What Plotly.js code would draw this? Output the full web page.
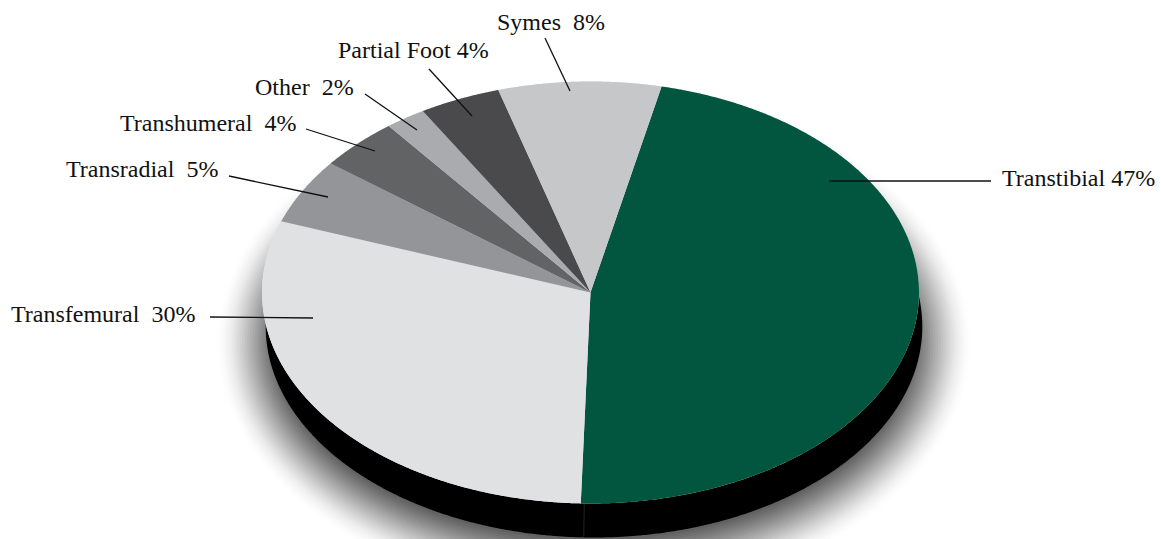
<!DOCTYPE html>
<html>
<head>
<meta charset="utf-8">
<script src="https://cdn.plot.ly/plotly-3.0.1.min.js"></script>
<style>html,body{margin:0;padding:0;background:#fff;overflow:hidden}#chart{width:1161px;height:539px}</style>
</head>
<body>
<div id="chart"></div>
<script>
// Data, clockwise from the first slice
const categories = ["Transtibial", "Transfemural", "Transradial", "Transhumeral", "Other", "Partial Foot", "Symes"];
const values = [47, 30, 5, 4, 2, 4, 8];
const labelTexts = ["Transtibial 47%", "Transfemural\u00A0\u00A030%", "Transradial\u00A0\u00A05%", "Transhumeral\u00A0\u00A04%", "Other\u00A0\u00A02%", "Partial Foot 4%", "Symes\u00A0\u00A08%"];

// Styles and layout
const colors = ["#02553f", "#e0e1e3", "#939598", "#616365", "#a9abae", "#4a4a4c", "#c6c7c9"];
const labelPos = [[1001,178],[10,314],[65,169],[119,123],[254,87],[337,50],[496,22]];
const leaders = [[829,181,991,181],[210,317,313,318],[229,176,328,197],[306,129,375,151],[365,94,417,130],[429,69,472,116],[545,38,570,91]];
const W = 1161, H = 539;
const top3D = {cx:590.5, cy:292.5, rx:328.5, ry:211};
const side3D = {cx:594, cy:326.5, rx:328.3, ry:211};
const shadow = {cx:594, cy:343, rx:338, ry:216, spread:44, layers:36, strength:0.74};
const startDeg = 12.5;

function arc(g, a0, a1, extra) {
  const xs = [], ys = [];
  const n = Math.max(2, Math.ceil(Math.abs(a1 - a0) * 3));
  for (let i = 0; i <= n; i++) {
    const t = (a0 + (a1 - a0) * i / n) * Math.PI / 180;
    xs.push(g.cx + (g.rx + (extra||0)) * Math.sin(t));
    ys.push(g.cy - (g.ry + (extra||0)) * Math.cos(t));
  }
  return [xs, ys];
}
function area(xs, ys, color, name) {
  return {type:"scatter", mode:"lines", x:xs, y:ys, fill:"toself", fillcolor:color,
          line:{width:0, color:color, simplify:false}, hoverinfo:"skip", showlegend:false, name:name||""};
}

const traces = [];
// soft drop shadow: nested translucent ellipses
let prev = 0;
for (let i = 0; i < shadow.layers; i++) {
  const u = i / (shadow.layers - 1);
  const d = shadow.spread * (1 - 2 * u);
  const s = u * u * (3 - 2 * u);
  const target = shadow.strength * s;
  const a = 1 - (1 - target) / (1 - prev);
  prev = target;
  if (a <= 0) continue;
  const [xs, ys] = arc(shadow, 0, 360, d);
  traces.push(area(xs, ys, "rgba(0,0,0," + a.toFixed(4) + ")"));
}
// black side
{ const [xs, ys] = arc(side3D, 0, 360); traces.push(area(xs, ys, "#000000", "side")); }
// base under slices so the seams stay light
{ const [xs, ys] = arc(top3D, 0, 360); traces.push(area(xs, ys, "#e0e1e3", "base")); }
// slices
const total = values.reduce((a, b) => a + b, 0);
let ang = startDeg;
values.forEach((v, i) => {
  const next = ang + 360 * v / total;
  const [xs, ys] = arc(top3D, ang, next);
  xs.unshift(top3D.cx); ys.unshift(top3D.cy);
  xs.push(top3D.cx); ys.push(top3D.cy);
  traces.push(area(xs, ys, colors[i], categories[i]));
  ang = next;
});

const annotations = labelTexts.map((t, i) => ({
  x: labelPos[i][0], y: labelPos[i][1], xref:"x", yref:"y", text:t, showarrow:false,
  xanchor:"left", yanchor:"middle", borderpad:0,
  font:{family:"'Liberation Serif', serif", size:24, color:"#111111"}
}));
const shapes = leaders.map(l => ({
  type:"line", xref:"x", yref:"y", x0:l[0], y0:l[1], x1:l[2], y1:l[3],
  line:{color:"#111111", width:1.3}, layer:"above"
}));
// thin seam on the black side
const seamX = top3D.cx + top3D.rx * Math.sin((startDeg + 360 * values[0] / total) * Math.PI / 180);
shapes.push({type:"line", xref:"x", yref:"y", x0:seamX + 3.5, y0:504, x1:seamX + 3, y1:537, line:{color:"#3a3a3a", width:0.6}, layer:"above"});

const layout = {
  width:W, height:H, margin:{l:0,r:0,t:0,b:0}, paper_bgcolor:"#fff", plot_bgcolor:"#fff",
  showlegend:false, annotations, shapes, hovermode:false,
  xaxis:{range:[0,W], visible:false, fixedrange:true},
  yaxis:{range:[H,0], visible:false, fixedrange:true}
};
Plotly.newPlot("chart", traces, layout, {displayModeBar:false, staticPlot:true});
</script>
</body>
</html>
